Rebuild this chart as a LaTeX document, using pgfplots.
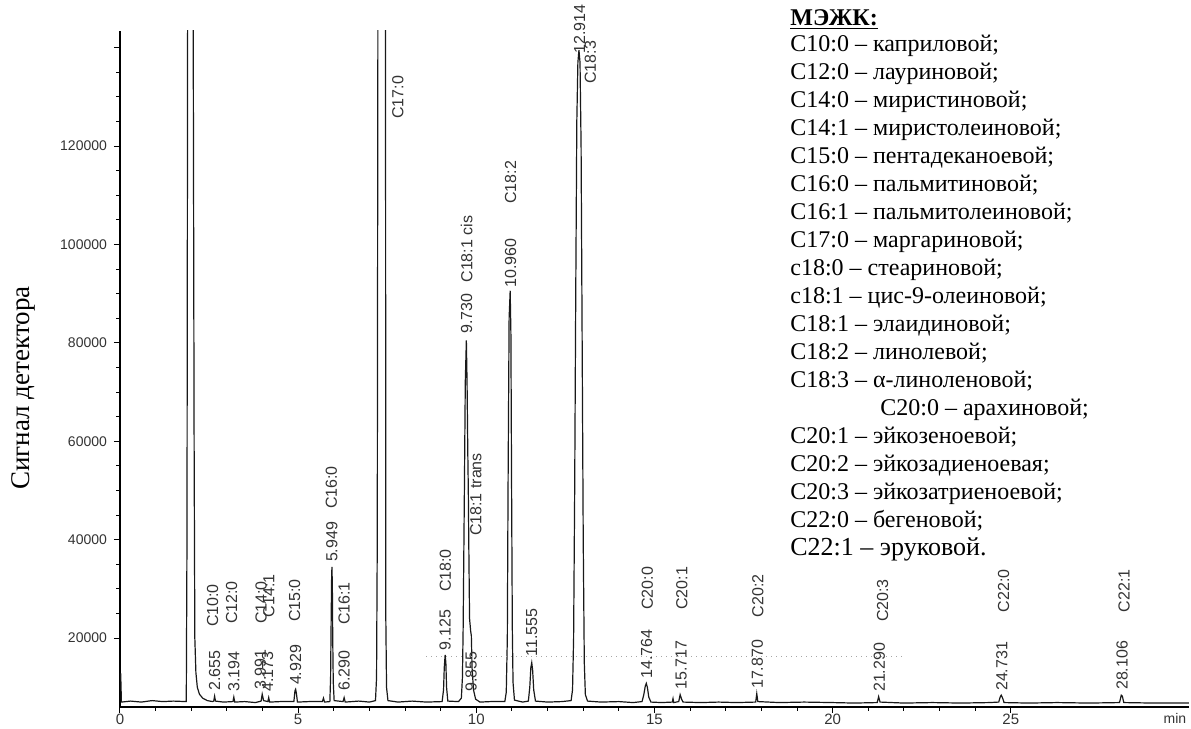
\documentclass[border=0pt]{standalone}
\usepackage{fontspec}
\setmainfont{Liberation Serif}
\newfontfamily\arialf{Liberation Sans}
\usepackage{pgfplots}
\pgfplotsset{compat=1.18}
\newcommand{\pl}[3]{\node[rotate=90, anchor=west, inner sep=0.5pt, font=\arialf\fontsize{8}{9}\selectfont, text=black!80] at (axis cs:#1,#2) {#3};}
\begin{document}
\begin{tikzpicture}
\useasboundingbox (-60pt,-11pt) rectangle (535.5pt,353.5pt);
\begin{axis}[
  scale only axis, width=534.5pt, height=338pt,
  xmin=0, xmax=30, ymin=6000, ymax=143400,
  axis x line=bottom, axis y line=left,
  axis line style={-, line width=0.6pt},
  tick align=outside,
  xtick={0,5,10,15,20,25}, xticklabels={0,5,10,15,20,25}, minor x tick num=4,
  ytick={20000,40000,60000,80000,100000,120000,140000},
  yticklabels={20000,40000,60000,80000,100000,120000,{}},
  scaled y ticks=false,
  minor y tick num=3,
  /pgf/number format/assume math mode=true,
  tick label style={font=\arialf\fontsize{7}{8}\selectfont, text=black!80},
  xticklabel style={font=\arialf\fontsize{7.5}{8}\selectfont, inner sep=1pt, yshift=0.5pt},
  major tick length=3pt, minor tick length=1.8pt,
  tick style={line width=0.5pt, black},
  clip mode=individual,
]
\addplot[black!90, line width=0.6pt] coordinates {
(0,12700) (0.02,12700) (0.04,7000) (0.3,7200) (0.6,7000) (0.9,7300) (1.2,7100) (1.5,7200) (1.86,7100)
(1.88,40000) (1.90,160000) (2.05,160000) (2.08,60000) (2.10,20000) (2.13,13000) (2.17,10000) (2.23,8600) (2.32,7800) (2.45,7300) (2.6,7100)
(2.63,7200) (2.655,8200) (2.68,7200) (2.9,7000) (3.17,7100) (3.194,8000) (3.22,7000) (3.5,7100) (3.8,6900) (3.96,7200) (3.991,8600) (4.03,7300) (4.15,7100) (4.173,7900) (4.2,7000) (4.5,7100)
(4.88,7100) (4.91,9300) (4.929,9600) (4.95,8800) (4.98,7000) (5.3,7100) (5.68,7100) (5.71,7800) (5.74,7000)
(5.89,7100) (5.91,12000) (5.925,23000) (5.94,33000) (5.949,34500) (5.96,30000) (5.97,20000) (5.985,11000) (6.01,7300)
(6.26,7100) (6.29,7900) (6.32,7000) (6.7,7200) (7.0,7000)
(7.17,7300) (7.2,12000) (7.22,40000) (7.24,160000) (7.45,160000) (7.46,24000) (7.48,10000) (7.52,7300)
(7.8,7000) (8.2,7200) (8.6,7000)
(9.04,7100) (9.08,9500) (9.10,14000) (9.125,16600) (9.145,15000) (9.165,10000) (9.2,7200) (9.5,7100)
(9.58,7800) (9.61,12000) (9.63,22000) (9.65,38000) (9.665,50000) (9.69,72000) (9.72,80500) (9.74,72000) (9.76,58000) (9.775,50000) (9.79,38000) (9.81,24000) (9.84,21500) (9.86,20500) (9.88,14000) (9.92,9500) (9.98,7600) (10.1,7000) (10.4,7100)
(10.8,7100) (10.84,9000) (10.87,20000) (10.89,50000) (10.92,85000) (10.95,90600) (10.97,82000) (10.99,50000) (11.01,22000) (11.03,11000) (11.07,7400) (11.3,7000)
(11.46,7200) (11.5,10000) (11.53,14000) (11.555,15000) (11.58,13500) (11.61,9500) (11.66,7200) (12.0,7000) (12.4,7100)
(12.66,7300) (12.7,9500) (12.73,20000) (12.76,50000) (12.79,90000) (12.82,125000) (12.85,137000) (12.88,139500) (12.91,137000) (12.94,120000) (12.97,80000) (13.0,40000) (13.03,15000) (13.06,8500) (13.12,7200)
(13.5,7000) (14.0,7100) (14.4,6900)
(14.65,7100) (14.7,8500) (14.74,10200) (14.77,10800) (14.8,10000) (14.84,8000) (14.9,7000) (15.2,6900)
(15.5,7000) (15.52,7700) (15.54,6900) (15.68,7100) (15.72,8500) (15.76,7600) (15.8,7000) (16.3,6900) (16.8,7000) (17.3,6900)
(17.84,7000) (17.87,8700) (17.9,7100) (18.5,6900) (19.2,7000) (20,6900) (20.6,6800)
(21.25,6900) (21.29,8100) (21.33,7000) (22,6800) (22.8,6900) (23.6,6800) (24.4,6900)
(24.66,7000) (24.7,8000) (24.73,8400) (24.77,7800) (24.81,6900) (25.5,6800) (26.3,6900) (27.2,6800)
(28.05,6900) (28.1,8400) (28.13,8200) (28.17,6900) (29,6800) (30,6800)
};
\addplot[black!35, dotted, line width=0.5pt] coordinates {(8.6,16300) (22,16300)};
% retention times
\pl{2.655}{9000}{2.655}
\pl{3.194}{8800}{3.194}
\pl{3.94}{9200}{3.991}
\pl{4.14}{8800}{4.173}
\pl{4.929}{10200}{4.929}
\pl{5.949}{35200}{5.949}
\pl{6.29}{9000}{6.290}
\pl{9.125}{17300}{9.125}
\pl{9.73}{81600}{9.730}
\pl{9.855}{8800}{9.855}
\pl{10.96}{91000}{10.960}
\pl{11.555}{16000}{11.555}
\pl{12.9}{138500}{12.914}
\pl{14.78}{11500}{14.764}
\pl{15.75}{9300}{15.717}
\pl{17.89}{9400}{17.870}
\pl{21.31}{8800}{21.290}
\pl{24.75}{9000}{24.731}
\pl{28.12}{9200}{28.106}
% compounds
\pl{2.6}{22000}{C10:0}
\pl{3.13}{22600}{C12:0}
\pl{3.96}{22600}{C14:0}
\pl{4.18}{24000}{C14:1}
\pl{4.9}{23000}{C15:0}
\pl{5.93}{46000}{C16:0}
\pl{6.29}{22400}{C16:1}
\pl{7.8}{125300}{C17:0}
\pl{9.13}{29100}{C18:0}
\pl{9.73}{92000}{C18:1 cis}
\pl{9.99}{40500}{C18:1 trans}
\pl{10.96}{108000}{C18:2}
\pl{13.2}{132400}{C18:3}
\pl{14.8}{25500}{C20:0}
\pl{15.77}{25500}{C20:1}
\pl{17.9}{24000}{C20:2}
\pl{21.4}{23000}{C20:3}
\pl{24.8}{25000}{C22:0}
\pl{28.18}{25000}{C22:1}
\end{axis}
\node[rotate=90, font=\fontsize{13.5}{15}\selectfont] at (-48.5pt,159.5pt) {Сигнал детектора};
\node[font=\arialf\fontsize{7}{8}\selectfont, text=black!80] at (527.5pt,-5.5pt) {min};
\node[anchor=north west, align=left, inner sep=0pt, font=\fontsize{12}{14}\selectfont] at (335pt,349pt) {%
\underline{\textbf{МЭЖК:}}\\[-1pt]
C10:0 – каприловой;\\
C12:0 – лауриновой;\\
C14:0 – миристиновой;\\
C14:1 – миристолеиновой;\\
C15:0 – пентадеканоевой;\\
C16:0 – пальмитиновой;\\
C16:1 – пальмитолеиновой;\\
C17:0 – маргариновой;\\
c18:0 – стеариновой;\\
c18:1 – цис-9-олеиновой;\\
C18:1 – элаидиновой;\\
C18:2 – линолевой;\\
C18:3 – α-линоленовой;\\
\hspace*{45pt}C20:0 – арахиновой;\\
C20:1 – эйкозеноевой;\\
C20:2 – эйкозадиеноевая;\\
C20:3 – эйкозатриеноевой;\\
C22:0 – бегеновой;\\
{\fontsize{13}{15}\selectfont C22:1 – эруковой.}};
\end{tikzpicture}
\end{document}
